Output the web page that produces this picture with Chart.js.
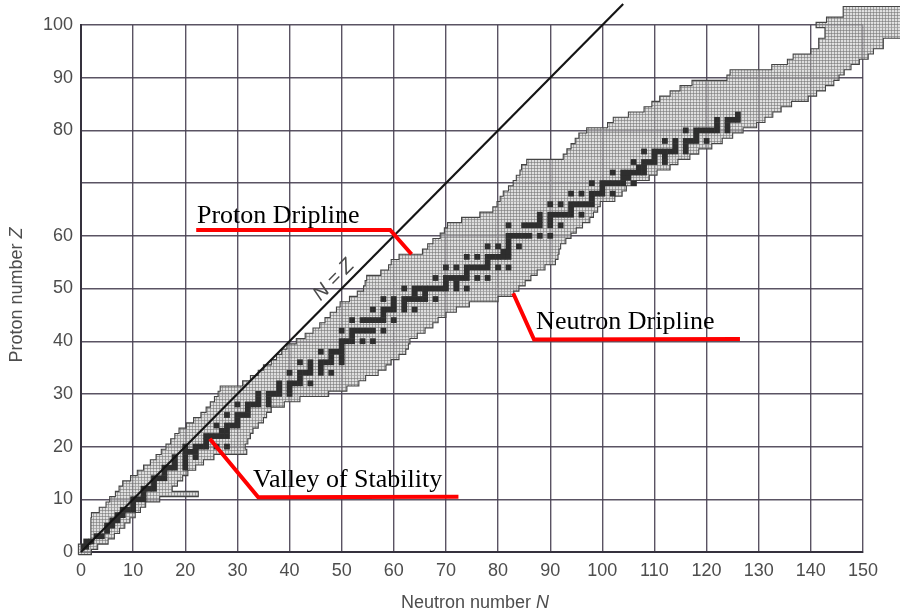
<!DOCTYPE html>
<html>
<head>
<meta charset="utf-8">
<script src="https://cdn.jsdelivr.net/npm/chart.js@4.4.1/dist/chart.umd.min.js"></script>
<style>
  html, body { margin: 0; padding: 0; background: #fff; }
  #chart { display: block; }
</style>
</head>
<body>
<canvas id="chart" width="900" height="615"></canvas>
<script>
/* ===== Données ===== */

// Axes
const xTicks = [0, 10, 20, 30, 40, 50, 60, 70, 80, 90, 100, 110, 120, 130, 140, 150];
const yTicks = [0, 10, 20, 30, 40, 50, 60, 70, 80, 90, 100];
const yTickLabels = ['0', '10', '20', '30', '40', '50', '60', '', '80', '90', '100'];

// Bande des noyaux connus : pour chaque Z (indice), bord gauche et bord droit en N
const bandNlo = [
  -0.5, -0.5, 1.9, 1.9, 1.9, 1.9, 1.9, 2, 3.5, 4.8,
  5.5, 6.6, 7.3, 8, 9.5, 10.8, 12, 13.3, 14.4, 15.4,
  16.3, 17.2, 18, 18.8, 20.2, 21.6, 23, 24, 24.8, 25.6,
  26.3, 26.7, 31, 32.5, 34, 35, 36.5, 37.5, 38.5, 39.5,
  41.3, 43, 44.5, 45.8, 46.8, 47.8, 49, 49.7, 51.5, 53,
  54.2, 54.5, 54.8, 57.5, 59, 59.5, 61, 65.5, 66.5, 67.5,
  68.9, 69.7, 70.3, 73, 76.5, 79, 79.8, 80.4, 81, 82,
  82.9, 83.5, 84.2, 84.5, 85.5, 92.5, 93.2, 94, 94.8, 95.5,
  97, 101, 102.1, 105, 108, 109.5, 111, 113, 114.9, 117.2,
  123.9, 124.5, 132.5, 135.5, 136.6, 140, 141.5, 141.5, 142.7, 142.7,
  141, 143, 146.2, 146.2
];
const bandNhi = [
  2, 3.2, 5.2, 6.4, 7.4, 8.4, 9.4, 10.4, 11.4, 12.4,
  15.1, 22.5, 17.5, 18.5, 19.5, 20.5, 22, 23.5, 25.5, 31.8,
  31.5, 32, 32.5, 33, 34, 35, 35.6, 36.5, 39, 42,
  47.5, 51, 53.3, 54.6, 57, 58.5, 59.5, 61, 62.3, 62.8,
  63.1, 64.5, 66, 67.5, 68.5, 70, 72, 74.5, 80, 83,
  84, 85.2, 86.3, 87.5, 89, 91, 91.5, 91.7, 92, 93,
  94, 95, 96.2, 97.6, 98.3, 99.1, 99.6, 102.4, 103.8, 104.6,
  106.5, 109, 110.5, 113, 114.5, 116.8, 118.5, 121, 123, 125,
  127, 129.6, 131.2, 132.7, 134.3, 136.3, 139.5, 141.1, 142.8, 144.4,
  145.4, 146.4, 147.7, 149.3, 151, 152, 153.9, 153.9, 158, 158,
  158, 158, 158, 158
];

// Noyaux stables : pour chaque Z (indice), liste des N
const stableNByZ = [
  [], [0, 1], [1, 2], [3, 4], [5], [5, 6], [6, 7], [7, 8], [8, 9, 10], [10],
  [10, 11, 12], [12], [12, 13, 14], [14], [14, 15, 16], [16], [16, 17, 18, 20], [18, 20], [18, 20, 22], [20, 21, 22],
  [20, 22, 23, 24, 26, 28], [24], [24, 25, 26, 27, 28], [27, 28], [26, 28, 29, 30], [30], [28, 30, 31, 32], [32], [30, 32, 33, 34, 36], [34, 36],
  [34, 36, 37, 38, 40], [38, 40], [38, 40, 41, 42, 44], [42], [40, 42, 43, 44, 46, 48], [44, 46], [42, 44, 46, 47, 48, 50], [48, 50], [46, 48, 49, 50], [50],
  [50, 51, 52, 54, 56], [52], [50, 52, 53, 54, 55, 56, 58], [], [52, 54, 55, 56, 57, 58, 60], [58], [56, 58, 59, 60, 62, 64], [60, 62], [58, 60, 62, 63, 64, 65, 66, 68], [64, 66],
  [62, 64, 65, 66, 67, 68, 69, 70, 72, 74], [70, 72], [68, 70, 71, 72, 73, 74, 76, 78], [74], [70, 72, 74, 75, 76, 77, 78, 80, 82], [78], [74, 76, 78, 79, 80, 81, 82], [81, 82], [78, 80, 82, 84], [82],
  [82, 83, 84, 85, 86, 88, 90], [], [82, 85, 86, 87, 88, 90, 92], [88, 90], [88, 90, 91, 92, 93, 94, 96], [94], [90, 92, 94, 95, 96, 97, 98], [98], [94, 96, 98, 99, 100, 102], [100],
  [98, 100, 101, 102, 103, 104, 106], [104, 105], [102, 104, 105, 106, 107, 108], [107, 108], [106, 108, 109, 110, 112], [110, 112], [108, 110, 111, 112, 113, 114, 116], [114, 116], [112, 114, 116, 117, 118, 120], [118],
  [116, 118, 119, 120, 121, 122, 124], [122, 124], [122, 124, 125, 126], [126]
];

// Droite N = Z
const nzLineN = [0, 104];
const nzLineZ = [0, 104];

// Annotations (traits rouges + textes)
const protonLineN = [22.1, 59.3, 63.4];
const protonLineZ = [61.1, 61.1, 56.5];
const valleyLineN = [24.7, 34.0, 72.4];
const valleyLineZ = [21.5, 10.4, 10.5];
const neutronLineN = [82.9, 86.9, 126.4];
const neutronLineZ = [49.1, 40.3, 40.4];

const annoTexts = ['Proton Dripline', 'Valley of Stability', 'Neutron Dripline'];
const annoN = [22.25, 33.0, 87.3];
const annoZ = [62.4, 12.3, 42.3];

/* ===== Construction ===== */

const toPoints = (ns, zs) => ns.map((n, i) => ({ x: n, y: zs[i] }));

const bandData = bandNlo.map((lo, z) => ({ y: z, x: [lo, bandNhi[z]] }));

// Contour en escalier de la bande, tiré des mêmes bords
function bandOutline() {
  const pts = [];
  bandNlo.forEach((lo, z) => { pts.push({ x: lo, y: z - 0.5 }, { x: lo, y: z + 0.5 }); });
  for (let z = bandNhi.length - 1; z >= 0; z--) {
    pts.push({ x: bandNhi[z], y: z + 0.5 }, { x: bandNhi[z], y: z - 0.5 });
  }
  pts.push({ x: bandNlo[0], y: -0.5 });
  return pts;
}

const stableData = [];
stableNByZ.forEach((list, z) => list.forEach(n => stableData.push({ x: n, y: z })));

// Motif quadrillé gris de la bande
function makeBandPattern() {
  const pat = document.createElement('canvas');
  pat.width = 3;
  pat.height = 3;
  const pc = pat.getContext('2d');
  pc.fillStyle = 'rgba(200, 200, 200, 0.6)';
  pc.fillRect(0, 0, 3, 3);
  pc.fillStyle = 'rgba(120, 120, 120, 0.6)';
  pc.fillRect(0, 0, 3, 1);
  pc.fillRect(0, 0, 1, 3);
  return pc.createPattern(pat, 'repeat');
}

const GRID = 'rgba(72, 64, 82, 0.9)';
const TICK_FONT = { family: "'Liberation Sans', Arial, sans-serif", size: 18 };
const TICK_COLOR = '#4d4d4d';

// Textes : annotations, étiquette N = Z, titres d'axes (avec N et Z en italique)
const textPlugin = {
  id: 'texts',
  afterDatasetsDraw(chart) {
    const { ctx, scales: { x, y } } = chart;
    ctx.save();

    ctx.fillStyle = '#000';
    ctx.font = "26px 'Liberation Serif', 'Times New Roman', serif";
    ctx.textBaseline = 'alphabetic';
    ctx.textAlign = 'left';
    annoTexts.forEach((t, i) => {
      ctx.fillText(t, x.getPixelForValue(annoN[i]), y.getPixelForValue(annoZ[i]));
    });

    // N = Z le long de la diagonale
    const a = Math.atan2(y.getPixelForValue(1) - y.getPixelForValue(0), x.getPixelForValue(1) - x.getPixelForValue(0));
    ctx.save();
    ctx.translate(x.getPixelForValue(48.5), y.getPixelForValue(51.6));
    ctx.rotate(a);
    ctx.fillStyle = '#4a4a4a';
    ctx.font = "italic 20px 'Liberation Sans', Arial, sans-serif";
    ctx.textAlign = 'center';
    ctx.textBaseline = 'middle';
    ctx.fillText('N = Z', 0, 0);
    ctx.restore();

    // Titres des axes
    const drawTitle = (plain, ital, cx, cy, rot) => {
      ctx.save();
      ctx.translate(cx, cy);
      ctx.rotate(rot);
      ctx.fillStyle = '#4d4d4d';
      ctx.textBaseline = 'middle';
      ctx.textAlign = 'left';
      const fPlain = "18px 'Liberation Sans', Arial, sans-serif";
      const fItal = "italic 18px 'Liberation Sans', Arial, sans-serif";
      ctx.font = fPlain;
      const w1 = ctx.measureText(plain).width;
      ctx.font = fItal;
      const w2 = ctx.measureText(ital).width;
      const x0 = -(w1 + w2) / 2;
      ctx.font = fPlain;
      ctx.fillText(plain, x0, 0);
      ctx.font = fItal;
      ctx.fillText(ital, x0 + w1, 0);
      ctx.restore();
    };
    drawTitle('Neutron number ', 'N', 475, 603, 0);
    drawTitle('Proton number ', 'Z', 17, 295, -Math.PI / 2);

    ctx.restore();
  }
};

const redLine = (ns, zs) => ({
  type: 'line',
  data: toPoints(ns, zs),
  borderColor: '#ff0000',
  borderWidth: 4,
  borderJoinStyle: 'miter',
  pointRadius: 0,
  fill: false,
  clip: false,
  order: 1,
});

const ctx = document.getElementById('chart').getContext('2d');

new Chart(ctx, {
  type: 'scatter',
  data: {
    datasets: [
      {
        type: 'bar',
        label: 'Noyaux connus',
        indexAxis: 'y',
        data: bandData,
        backgroundColor: makeBandPattern(),
        borderWidth: 0,
        inflateAmount: 0,
        barPercentage: 1,
        categoryPercentage: 1,
        clip: false,
        order: 7,
      },
      {
        type: 'line',
        label: 'Contour',
        data: bandOutline(),
        borderColor: '#454545',
        borderWidth: 1.1,
        pointRadius: 0,
        fill: false,
        clip: false,
        order: 6,
      },
      {
        type: 'scatter',
        label: 'Stables',
        data: stableData,
        pointStyle: 'rect',
        pointRadius: 4.1,
        pointBorderWidth: 0,
        backgroundColor: '#2e2e2e',
        borderColor: '#2e2e2e',
        order: 5,
      },
      {
        type: 'line',
        label: 'N = Z',
        data: toPoints(nzLineN, nzLineZ),
        borderColor: '#151515',
        borderWidth: 2.2,
        pointRadius: 0,
        fill: false,
        clip: false,
        order: 3,
      },
      redLine(protonLineN, protonLineZ),
      redLine(valleyLineN, valleyLineZ),
      redLine(neutronLineN, neutronLineZ),
    ]
  },
  options: {
    responsive: false,
    animation: false,
    devicePixelRatio: 1,
    events: [],
    layout: { padding: { top: 25, right: 37, left: 0, bottom: 0 } },
    plugins: {
      legend: { display: false },
      tooltip: { enabled: false },
    },
    scales: {
      x: {
        type: 'linear',
        min: 0,
        max: 150,
        offset: false,
        afterBuildTicks: s => { s.ticks = xTicks.map(v => ({ value: v })); },
        afterFit: s => { s.height = 63; },
        ticks: { font: TICK_FONT, color: TICK_COLOR, padding: 8, maxRotation: 0, autoSkip: false },
        grid: { color: GRID, lineWidth: 1.4, drawTicks: false, offset: false },
        border: { color: '#35313d', width: 2 },
      },
      y: {
        type: 'linear',
        min: 0,
        max: 100,
        offset: false,
        afterBuildTicks: s => { s.ticks = yTicks.map(v => ({ value: v })); },
        afterFit: s => { s.width = 81; },
        ticks: {
          font: TICK_FONT,
          color: TICK_COLOR,
          padding: 8,
          autoSkip: false,
          callback: (v, i) => yTickLabels[i],
        },
        grid: { color: GRID, lineWidth: 1.4, drawTicks: false, offset: false },
        border: { color: '#35313d', width: 2 },
      }
    }
  },
  plugins: [textPlugin]
});
</script>
</body>
</html>
